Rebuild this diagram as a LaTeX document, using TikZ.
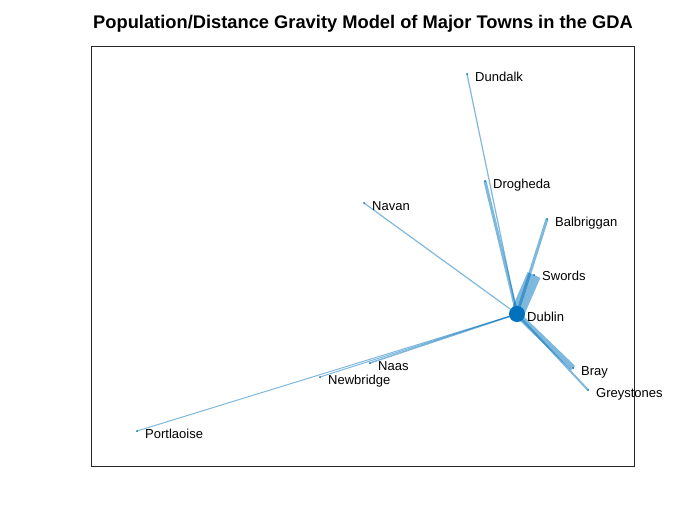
\documentclass[tikz,border=0pt]{standalone}
\usepackage{fontspec}
\setmainfont{Liberation Sans}
\definecolor{mblue}{RGB}{0,114,189}
\begin{document}
\begin{tikzpicture}[x=1pt,y=-1pt,
  edge/.style={draw=mblue,opacity=0.5,line cap=butt},
  town/.style={circle,fill=mblue,inner sep=0pt,minimum size=2pt},
  hub/.style={circle,fill=mblue,inner sep=0pt,minimum size=16pt},
  lbl/.style={anchor=base west,inner sep=0pt,font=\fontsize{13}{14}\selectfont},
  ttl/.style={anchor=base,inner sep=0pt,font=\fontsize{18.3}{20}\selectfont\bfseries}]
\useasboundingbox[fill=white] (0,0) rectangle (700,525);
\draw[line width=0.8pt,draw=black!85] (91,46) rectangle (634,466);
\node[ttl] (title) at (363,28.5) {Population/Distance Gravity Model of Major Towns in the GDA};
% positions
\coordinate (dublin) at (517,314);
\coordinate (dundalk) at (467,74);
\coordinate (drogheda) at (485,181);
\coordinate (navan) at (364,203);
\coordinate (balbriggan) at (547,219);
\coordinate (swords) at (534,275);
\coordinate (naas) at (370,363);
\coordinate (newbridge) at (320,377);
\coordinate (portlaoise) at (137,431);
\coordinate (bray) at (573,368);
\coordinate (greystones) at (588,390);
% edges
\draw[edge,line width=1.2pt] (dublin) -- (dundalk);
\draw[edge,line width=3pt] (dublin) -- (drogheda);
\draw[edge,line width=1.2pt] (dublin) -- (navan);
\draw[edge,line width=3pt] (dublin) -- (balbriggan);
\draw[edge,line width=14pt] (dublin) -- (swords);
\draw[edge,line width=1.5pt] (dublin) -- (naas);
\draw[edge,line width=1pt] (dublin) -- (newbridge);
\draw[edge,line width=1pt] (dublin) -- (portlaoise);
\draw[edge,line width=6pt] (dublin) -- (bray);
\draw[edge,line width=2pt] (dublin) -- (greystones);
% markers
\node[hub] (dublinM) at (dublin) {};
\foreach \t in {dundalk,drogheda,navan,balbriggan,swords,naas,newbridge,portlaoise,bray,greystones}
  \node[town] (\t M) at (\t) {};
% labels
\node[lbl] (dublinL) at ([xshift=10,yshift=-7]dublin) {Dublin};
\node[lbl] (dundalkL) at ([xshift=8,yshift=-7]dundalk) {Dundalk};
\node[lbl] (droghedaL) at ([xshift=8,yshift=-7]drogheda) {Drogheda};
\node[lbl] (navanL) at ([xshift=8,yshift=-7]navan) {Navan};
\node[lbl] (balbrigganL) at ([xshift=8,yshift=-7]balbriggan) {Balbriggan};
\node[lbl] (swordsL) at ([xshift=8,yshift=-5]swords) {Swords};
\node[lbl] (naasL) at ([xshift=8,yshift=-7]naas) {Naas};
\node[lbl] (newbridgeL) at ([xshift=8,yshift=-7]newbridge) {Newbridge};
\node[lbl] (portlaoiseL) at ([xshift=8,yshift=-7]portlaoise) {Portlaoise};
\node[lbl] (brayL) at ([xshift=8,yshift=-7]bray) {Bray};
\node[lbl] (greystonesL) at ([xshift=8,yshift=-7]greystones) {Greystones};
\end{tikzpicture}
\end{document}
